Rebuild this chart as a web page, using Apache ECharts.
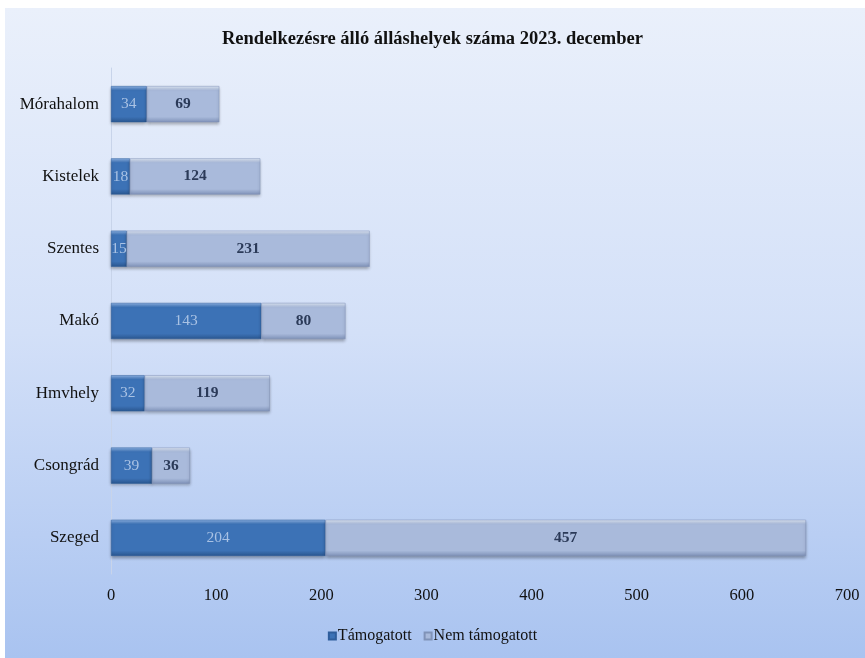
<!DOCTYPE html>
<html><head><meta charset="utf-8">
<script src="https://cdn.jsdelivr.net/npm/echarts@6/dist/echarts.min.js"></script>
<style>html,body{margin:0;padding:0;background:#fff}#c{width:865px;height:658px}</style>
</head><body><div id="c"></div>
<script>
const categories = ['Szeged','Csongrád','Hmvhely','Makó','Szentes','Kistelek','Mórahalom'];
const tamogatott = [204, 39, 32, 143, 15, 18, 34];
const nemTamogatott = [457, 36, 119, 80, 231, 124, 69];
const xTicks = [0,100,200,300,400,500,600,700];
const seriesNames = ['Támogatott','Nem támogatott'];

const font = 'Liberation Serif';
const chart = echarts.init(document.getElementById('c'));
function grad(top, mid, bot){
  return new echarts.graphic.LinearGradient(0,0,0,1,[
    {offset:0,color:top},{offset:0.12,color:mid},{offset:0.85,color:mid},{offset:1,color:bot}]);
}
chart.setOption({
  backgroundColor: 'transparent',
  graphic: [{type:'rect', shape:{x:5,y:8,width:860,height:650}, z:-10,
    style:{fill:new echarts.graphic.LinearGradient(0,0,0,1,[{offset:0,color:'#eaf0fb'},{offset:0.5,color:'#d3e0f8'},{offset:1,color:'#a9c3f0'}])}}],
  title: {text:'Rendelkezésre álló álláshelyek száma 2023. december', left:'center', top:25,
    textStyle:{fontFamily:font, fontSize:18.5, fontWeight:'bold', color:'#111'}},
  grid: {left:111, right:18, top:68, bottom:84, containLabel:false},
  legend: {bottom:9, left:'center', itemWidth:7, itemHeight:7, itemGap:12,
    icon:'rect', textStyle:{fontFamily:font, fontSize:16, color:'#111', padding:[0,0,0,-3]},
    data: seriesNames},
  xAxis: {type:'value', min:0, max:700, interval:100,
    axisLine:{show:false}, axisTick:{show:false}, splitLine:{show:false},
    axisLabel:{fontFamily:font, fontSize:16.5, color:'#111', margin:13,
      formatter: v => xTicks.includes(v) ? String(v) : ''}},
  yAxis: {type:'category', data:categories,
    axisLine:{show:true, lineStyle:{color:'#c8d4ea'}}, axisTick:{show:false},
    axisLabel:{fontFamily:font, fontSize:17, color:'#111', margin:12}},
  series: [
    {name:seriesNames[0], type:'bar', stack:'t', data:tamogatott, barWidth:'50%',
      itemStyle:{color:grad('#8fb4e6','#3c72b6','#2a568f'), borderColor:'#2f5e9c', borderWidth:0.5,
        shadowColor:'rgba(0,0,0,0.3)', shadowBlur:3, shadowOffsetY:2},
      label:{show:true, position:'inside', fontFamily:font, fontSize:15.5, color:'#a9c2e4'}},
    {name:seriesNames[1], type:'bar', stack:'t', data:nemTamogatott, barWidth:'50%',
      itemStyle:{color:grad('#dfe8f6','#a9badb','#7f92b8'), borderColor:'#8093b8', borderWidth:0.5,
        shadowColor:'rgba(0,0,0,0.3)', shadowBlur:3, shadowOffsetY:2},
      label:{show:true, position:'inside', fontFamily:font, fontSize:15.5, fontWeight:'bold', color:'#2b3a58'}}
  ]
});
</script></body></html>
